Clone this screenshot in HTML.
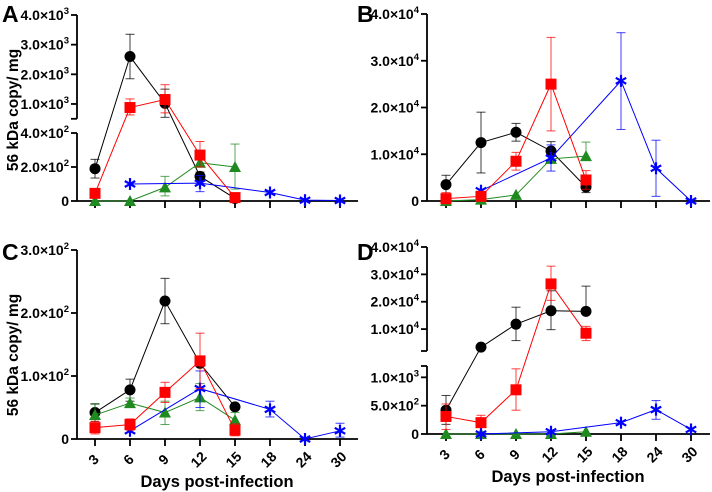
<!DOCTYPE html>
<html><head><meta charset="utf-8"><style>
body{margin:0;background:#fff;}
svg{display:block;font-family:"Liberation Sans",sans-serif;}
</style></head><body>
<svg id="fig" width="712" height="492" viewBox="0 0 712 492" xmlns="http://www.w3.org/2000/svg"></svg>
<script>
const days = ["3","6","9","12","15","18","24","30"];
// Panel A
const aBlackVal=[190,2600,1020,145,15], aBlackLo=[135,1850,550,120,null], aBlackHi=[245,3350,1500,170,null];
const aRedVal=[45,880,1150,270,20], aRedLo=[30,630,700,200,null], aRedHi=[60,1170,1650,350,null];
const aGreenVal=[0,0,80,225,200], aGreenLo=[null,null,30,null,70], aGreenHi=[null,null,145,null,335];
const aBlueVal=[100,105,50,5,3], aBlueLo=[null,55,null,null,null], aBlueHi=[null,150,null,null,null];
// Panel B
const bBlackVal=[3500,12500,14700,10700,3000], bBlackLo=[1500,6000,12800,8500,1800], bBlackHi=[5500,19000,16600,12700,4200];
const bRedVal=[500,1000,8500,25000,4500], bRedLo=[null,null,6600,15000,2500], bRedHi=[1800,null,10400,35000,6500];
const bGreenVal=[0,300,1300,9000,9600], bGreenLo=[null,null,null,5700,null], bGreenHi=[null,null,null,null,12600];
const bBlueVal=[2200,9200,25700,7000,0], bBlueLo=[null,6400,15300,1000,null], bBlueHi=[null,12000,36000,13000,null];
// Panel C
const cBlackVal=[42,78,219,120,51], cBlackLo=[28,60,183,null,null], cBlackHi=[56,95,255,null,null];
const cRedVal=[18,23,74,124,14], cRedLo=[8,14,58,80,5], cRedHi=[28,32,90,168,24];
const cGreenVal=[38,57,42,66,30], cGreenLo=[22,50,23,45,18], cGreenHi=[55,65,60,88,42];
const cBlueVal=[13,80,47,0,13], cBlueLo=[null,50,35,null,3], cBlueHi=[null,108,60,null,25];
// Panel D
const dBlackVal=[420,3400,11800,16700,16500], dBlackLo=[170,null,5800,9800,null], dBlackHi=[680,null,18000,24000,25700];
const dRedVal=[310,200,780,26500,8500], dRedLo=[80,null,420,20500,5800], dRedHi=[530,330,1150,33000,11000];
const dGreenVal=[0,0,0,0,40];
const dBlueVal=[0,40,200,430,80], dBlueLo=[null,null,null,260,null], dBlueHi=[null,null,null,590,null];

const blackDays=[0,1,2,3,4], blueDays=[1,3,5,6,7];
const COL={black:"#000",red:"#ff0000",green:"#1f8a1f",blue:"#0000ff"};
const NS="http://www.w3.org/2000/svg";
const svg=document.getElementById("fig");
function mk(tag,attrs,parent){const e=document.createElementNS(NS,tag);for(const k in attrs)e.setAttribute(k,attrs[k]);(parent||svg).appendChild(e);return e;}

function makeScale(segs){
  return function(v){
    for(let i=0;i<segs.length;i++){const s=segs[i];
      if(v<=s.v1||i===segs.length-1){
        if(i>0&&v<s.v0){const p=segs[i-1];return p.y1+(v-p.v1)/(s.v0-p.v1)*(s.y0-p.y1);}
        return s.y0+(v-s.v0)/(s.v1-s.v0)*(s.y1-s.y0);}
    }};
}
function marker(g,type,x,y,c){
  let e;
  if(type==="circle") e=mk("circle",{cx:x,cy:y,r:5.5,fill:c},g);
  else if(type==="square") e=mk("rect",{x:x-5.5,y:y-5.5,width:11,height:11,fill:c},g);
  else if(type==="tri") e=mk("polygon",{points:`${x},${y-6} ${x+6},${y+5} ${x-6},${y+5}`,fill:c},g);
  else { e=mk("g",{},g);
    for(let a=0;a<3;a++){const an=a*Math.PI/3+Math.PI/2;const dx=6*Math.cos(an),dy=6*Math.sin(an);
      mk("line",{x1:x-dx,y1:y-dy,x2:x+dx,y2:y+dy,stroke:c,"stroke-width":2.2},e);}
  }
  
  
}
function series(g,name,xs,ys,vals,lo,hi,type,c){
  const sg=mk("g",{},g);
  
  
  const pts=vals.map((v,i)=>[xs[i],ys(v)]);
  if(lo||hi) vals.forEach((v,i)=>{
    const x=pts[i][0];const l=lo&&lo[i]!=null?lo[i]:v, h=hi&&hi[i]!=null?hi[i]:v;
    if(l===v&&h===v)return;
    const yl=ys(l),yh=ys(h);
    mk("line",{x1:x,y1:yl,x2:x,y2:yh,stroke:c,"stroke-width":1,opacity:0.75},sg);
    if(h!==v)mk("line",{x1:x-4.5,y1:yh,x2:x+4.5,y2:yh,stroke:c,"stroke-width":1,opacity:0.75},sg);
    if(l!==v)mk("line",{x1:x-4.5,y1:yl,x2:x+4.5,y2:yl,stroke:c,"stroke-width":1,opacity:0.75},sg);
  });
  mk("polyline",{points:pts.map(p=>p.join(",")).join(" "),fill:"none",stroke:c,"stroke-width":1},sg);
  pts.forEach(p=>marker(sg,type,p[0],p[1],c));
}
function tickLabel(g,x,y,mant,exp){
  const t=mk("text",{x:x,y:y+5,"text-anchor":"end","font-size":14,"font-weight":"bold",fill:"#000"},g);
  if(exp==null){t.textContent=mant;}else{
    const a=mk("tspan",{},t);a.textContent=mant+"\u00d710";
    const b=mk("tspan",{dy:-6,"font-size":9.5},t);b.textContent=exp;
  }
  
  
}
function panel(opt){
  const g=mk("g",{});
  
  
  const ys=makeScale(opt.segs), ax=opt.ax, x0=opt.x0, dx=35;
  const xs=i=>x0+i*dx;
  const L=mk("text",{x:opt.lx,y:opt.ly,"font-size":23,"font-weight":"bold"},g);L.textContent=opt.letter;
  
  
  opt.segs.forEach(s=>mk("line",{x1:ax,y1:s.y0,x2:ax,y2:s.y1,stroke:"#000","stroke-width":1.8},g));
  opt.breaks.forEach(y=>mk("line",{x1:ax-6,y1:y,x2:ax,y2:y,stroke:"#000","stroke-width":1.8},g));
  opt.ticks.forEach(t=>{const y=ys(t[0]);mk("line",{x1:ax-6,y1:y,x2:ax,y2:y,stroke:"#000","stroke-width":1.8},g);tickLabel(g,ax-8,y,t[1],t[2]);});
  const y0=ys(0);
  mk("line",{x1:ax,y1:y0,x2:opt.xend,y2:y0,stroke:"#000","stroke-width":1.8},g);
  days.forEach((d,i)=>{mk("line",{x1:xs(i),y1:y0,x2:xs(i),y2:y0+7,stroke:"#000","stroke-width":1.8},g);
    if(opt.xlabels){const t=mk("text",{x:0,y:0,"font-size":14,"font-weight":"bold","text-anchor":"middle",transform:`translate(${xs(i)+2},${y0+24}) rotate(-45)`},g);t.textContent=d;
      
      }
  });
  if(opt.xlabels){const t=mk("text",{x:x0+122,y:y0+48,"font-size":16.5,"font-weight":"bold","text-anchor":"middle"},g);t.textContent="Days post-infection";
    
    }
  if(opt.ytitle){const t=mk("text",{x:0,y:0,"font-size":15.5,"font-weight":"bold","text-anchor":"middle",transform:`translate(18,${opt.ytitle}) rotate(-90)`},g);t.textContent="56 kDa copy/ mg";
    
    }
  const bx=blackDays.map(xs), ux=blueDays.map(xs), D=opt.d;
  series(g,"black",bx,ys,D[0],D[1],D[2],"circle",COL.black);
  series(g,"green",bx,ys,D[6],D[7],D[8],"tri",COL.green);
  series(g,"blue",ux,ys,D[9],D[10],D[11],"star",COL.blue);
  series(g,"red",bx,ys,D[3],D[4],D[5],"square",COL.red);
}
panel({letter:"A",lx:2,ly:22,ax:77,x0:95,xend:358,segs:[{v0:0,v1:400,y0:201,y1:133},{v0:500,v1:4000,y0:118.8,y1:15}],breaks:[118.8],
  ticks:[[0,"0"],[200,"2.0","2"],[400,"4.0","2"],[1000,"1.0","3"],[2000,"2.0","3"],[3000,"3.0","3"],[4000,"4.0","3"]],ytitle:110,
  d:[aBlackVal,aBlackLo,aBlackHi,aRedVal,aRedLo,aRedHi,aGreenVal,aGreenLo,aGreenHi,aBlueVal,aBlueLo,aBlueHi]});
panel({letter:"B",lx:357,ly:22,ax:427,x0:446,xend:710,segs:[{v0:0,v1:40000,y0:201,y1:14}],breaks:[],
  ticks:[[0,"0"],[10000,"1.0","4"],[20000,"2.0","4"],[30000,"3.0","4"],[40000,"4.0","4"]],
  d:[bBlackVal,bBlackLo,bBlackHi,bRedVal,bRedLo,bRedHi,bGreenVal,null,bGreenHi,bBlueVal,bBlueLo,bBlueHi]});
panel({letter:"C",lx:2,ly:260,ax:77,x0:95,xend:358,segs:[{v0:0,v1:300,y0:439,y1:250}],breaks:[],
  ticks:[[0,"0"],[100,"1.0","2"],[200,"2.0","2"],[300,"3.0","2"]],ytitle:355,xlabels:true,
  d:[cBlackVal,cBlackLo,cBlackHi,cRedVal,cRedLo,cRedHi,cGreenVal,cGreenLo,cGreenHi,cBlueVal,cBlueLo,cBlueHi]});
panel({letter:"D",lx:357,ly:260,ax:427,x0:446,xend:710,segs:[{v0:0,v1:1200,y0:434,y1:366},{v0:2000,v1:40000,y0:351,y1:247}],breaks:[351,366],
  ticks:[[0,"0"],[500,"5.0","2"],[1000,"1.0","3"],[10000,"1.0","4"],[20000,"2.0","4"],[30000,"3.0","4"],[40000,"4.0","4"]],xlabels:true,
  d:[dBlackVal,dBlackLo,dBlackHi,dRedVal,dRedLo,dRedHi,dGreenVal,null,null,dBlueVal,dBlueLo,dBlueHi]});
</script>
</body></html>
